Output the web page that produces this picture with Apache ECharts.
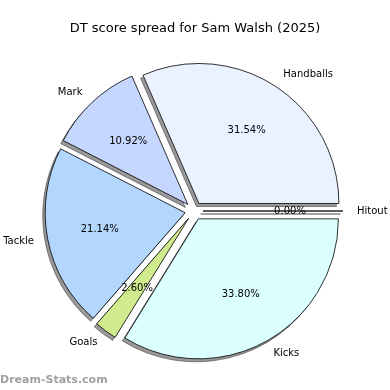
<!DOCTYPE html>
<html><head><meta charset="utf-8">
<script src="https://cdn.jsdelivr.net/npm/echarts@6/dist/echarts.min.js"></script>
<style>html,body{margin:0;padding:0;background:#fff}#c{width:390px;height:390px}</style>
</head><body><div id="c"></div>
<script>
const categories = ['Handballs', 'Mark', 'Tackle', 'Goals', 'Kicks', 'Hitout'];
const percentages = [31.54, 10.92, 21.14, 2.60, 33.80, 0.00];
const sliceColors = ['#eaf1ff', '#c6d7ff', '#b3d6ff', '#d0eb8d', '#dbffff', '#ffffff'];
const titleText = 'DT score spread for Sam Walsh (2025)';
const watermark = 'Dream-Stats.com';

const R = 140, CX = 194, CY = 211, OFF = 9;
const font = 'DejaVu Sans';
const mkData = (colored) => categories.map((c, i) => ({
  name: c, value: percentages[i], selected: true,
  itemStyle: colored ? { color: sliceColors[i] } : undefined
}));
const common = {
  type: 'pie', startAngle: 0, clockwise: false, selectedMode: 'multiple', selectedOffset: OFF,
  avoidLabelOverlap: false, stillShowZeroSum: true, silent: true, emphasis: { disabled: true }
};

const chart = echarts.init(document.getElementById('c'), null, { renderer: 'canvas' });
chart.setOption({
  animation: false,
  backgroundColor: '#fff',
  title: {
    text: titleText, left: 'center', top: 17,
    textStyle: { fontFamily: font, fontSize: 13, fontWeight: 'normal', color: '#000' }
  },
  graphic: [{
    type: 'text', left: 0, top: 375,
    style: { text: watermark, fontFamily: font, fontSize: 11, fontWeight: 'bold', fill: '#a0a0a0' }
  }],
  series: [
    Object.assign({}, common, {
      center: [CX - 2.5, CY + 3], radius: [0, R], z: 1,
      itemStyle: { color: 'rgba(0,0,0,0.4)', borderColor: 'rgba(0,0,0,0.4)', borderWidth: 1 },
      label: { show: false }, labelLine: { show: false },
      data: mkData(false)
    }),
    Object.assign({}, common, {
      center: [CX, CY], radius: [0, R], z: 2,
      itemStyle: { borderColor: '#000', borderWidth: 0.8 },
      label: { show: true, position: 'outside', formatter: '{b}', fontFamily: font, fontSize: 10, color: '#000', distanceToLabelLine: 0 },
      labelLine: { show: false, length: 14, length2: 0 },
      data: mkData(true)
    }),
    Object.assign({}, common, {
      center: [CX, CY], radius: [0, R * 1.2], z: 3,
      itemStyle: { color: 'rgba(0,0,0,0)', borderWidth: 0 },
      label: { show: true, position: 'inside', formatter: p => p.value.toFixed(2) + '%', fontFamily: font, fontSize: 10, color: '#000' },
      labelLine: { show: false },
      data: mkData(false)
    })
  ]
});
</script></body></html>
